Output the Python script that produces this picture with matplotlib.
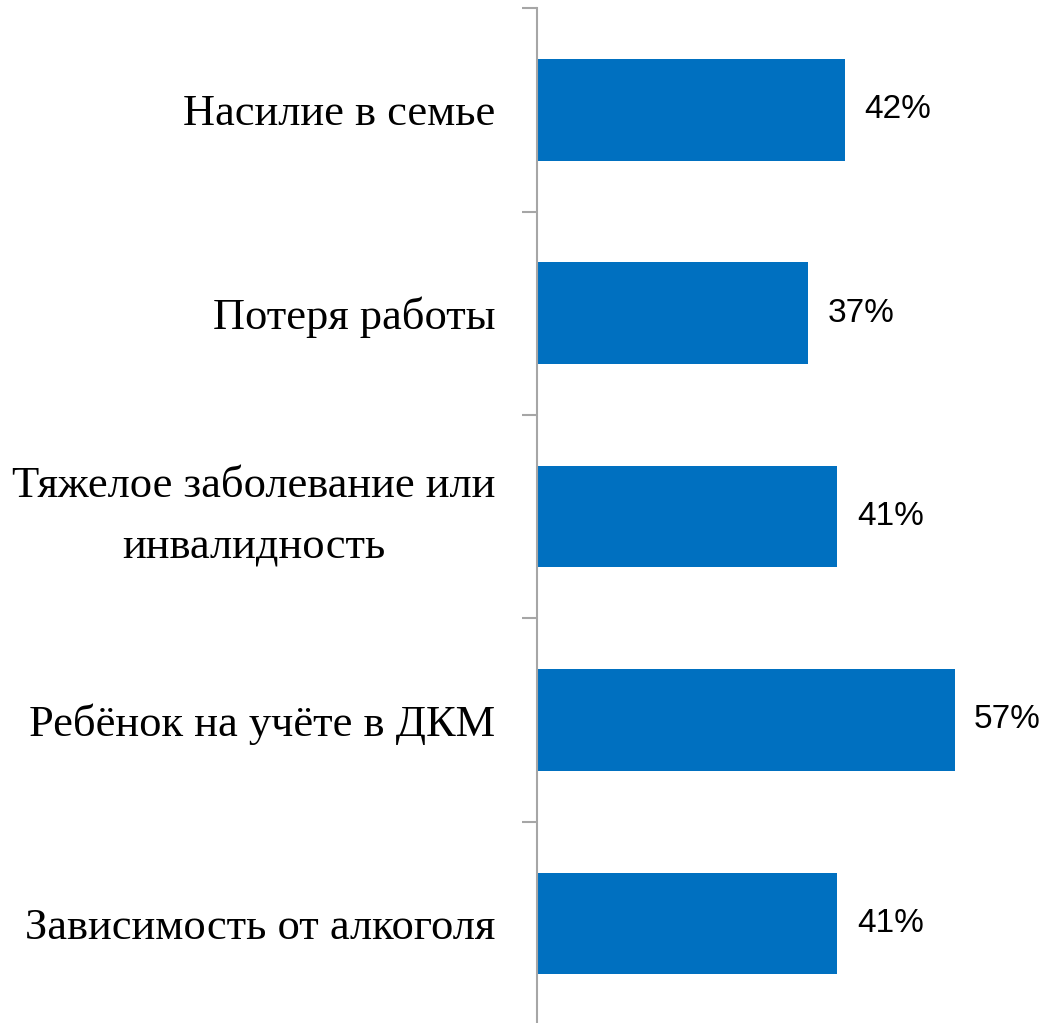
import matplotlib.pyplot as plt
from matplotlib import font_manager

categories = ['Насилие в семье', 'Потеря работы',
              'Тяжелое заболевание или\nинвалидность',
              'Ребёнок на учёте в ДКМ', 'Зависимость от алкоголя']
values = [42, 37, 41, 57, 41]
value_labels = ['42%', '37%', '41%', '57%', '41%']

names = {f.name for f in font_manager.fontManager.ttflist}
num_font = 'Liberation Sans Narrow' if 'Liberation Sans Narrow' in names else 'Liberation Sans'

fig = plt.figure(figsize=(10.51, 10.23), dpi=100)
ax = fig.add_axes([0.511, -0.002, 0.488, 0.994])

pos = list(range(len(categories)))[::-1]
ax.barh(pos, values, height=0.5, color='#0070C0')

for p, v, lab in zip(pos, values, value_labels):
    ax.annotate(lab, (v, p), xytext=(14, 0), textcoords='offset points',
                ha='left', va='center', fontsize=24, family=num_font)

ax.set_xlim(0, 70)
ax.set_ylim(-0.5, len(categories) - 0.5)

# category names, centred on each band
ax.set_yticks(pos)
ax.set_yticklabels(categories, family='Liberation Serif', fontsize=32,
                   multialignment='center', linespacing=1.7)
ax.tick_params(axis='y', which='major', length=0, pad=30)
for t in ax.get_yticklabels():
    if '\n' in t.get_text():
        t.set_va('center')

# boundary ticks
ax.set_yticks([p - 0.5 for p in range(len(categories) + 1)], minor=True)
ax.tick_params(axis='y', which='minor', length=11, width=1.5, color='#A6A6A6')

ax.xaxis.set_visible(False)
for s in ['top', 'right', 'bottom']:
    ax.spines[s].set_visible(False)
ax.spines['left'].set_color('#A6A6A6')
ax.spines['left'].set_linewidth(1.5)

fig.savefig('out.png', dpi=100)
